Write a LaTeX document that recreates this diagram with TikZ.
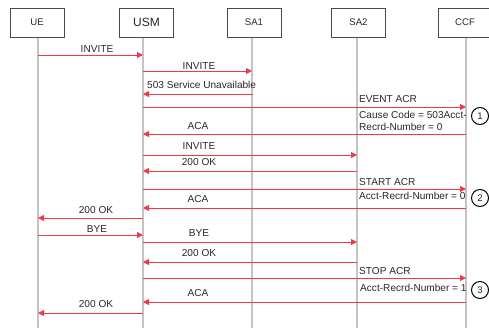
\documentclass[tikz,border=0pt]{standalone}
\usepackage{fontspec}
\setmainfont{Liberation Sans}
\usepackage{xcolor}
\usepackage{tikz}
\usetikzlibrary{arrows.meta, calc}
\definecolor{msgred}{HTML}{F03A4A}
\definecolor{lifegray}{HTML}{C4C4C4}
\definecolor{boxframe}{HTML}{4A4A4A}
\definecolor{txtgray}{HTML}{282828}

\begin{document}
\begin{tikzpicture}[
  x=1pt, y=-1pt,
  font=\fontsize{10.1}{11.5}\selectfont, text=txtgray,
  entity/.style={rectangle, draw=boxframe, line width=1pt, fill=white,
                 minimum width=54pt, minimum height=29pt, inner sep=0pt,
                 font=\fontsize{9.6}{11}\selectfont},
  lifeline/.style={draw=lifegray, line width=1.4pt},
  msg/.style={-{Triangle[length=6pt, width=6pt]}, draw=msgred, line width=1pt},
  msglbl/.style={anchor=base, inner sep=0pt},
  notelbl/.style={anchor=base west, inner sep=0pt},
  step num/.style={circle, draw=black, line width=1pt, minimum size=17pt,
                   inner sep=0pt, font=\fontsize{9.6}{11}\selectfont},
]
\useasboundingbox (0,0) rectangle (489,327);

%% ── Lifelines ────────────────────────────────────────────────────────────────
\coordinate (ue)  at (38,37);
\coordinate (usm) at (143,37);
\coordinate (sa1) at (252,37);
\coordinate (sa2) at (357,37);
\coordinate (ccf) at (466,37);
\foreach \p in {ue,usm,sa1,sa2,ccf}
  \draw[lifeline] (\p) -- (\p |- 0,330);

%% ── Entities ─────────────────────────────────────────────────────────────────
\node[entity] (UE)  at (37,22.5)  {UE};
\node[entity, font=\fontsize{12}{14}\selectfont] (USM) at (146.5,22.5)
  {\raisebox{-1.5pt}{USM}};
\node[entity] (SA1) at (254,22.5)  {SA1};
\node[entity] (SA2) at (358.5,22.5) {SA2};
\node[entity] (CCF) at (465,22.5)  {CCF};

%% ── Call setup and event charging ────────────────────────────────────────────
\draw[msg] (ue |- 0,55)   -- (usm |- 0,55);
\node[msglbl] (l1) at (97,52.5) {INVITE};
\draw[msg] (usm |- 0,71)  -- (sa1 |- 0,71);
\node[msglbl] (l2) at (199,69.5) {INVITE};
\draw[msg] ($(sa1 |- 0,94)+(1,0)$) -- (usm |- 0,94);
\node[notelbl] (l3) at (147,88.5) {503 Service Unavailable};
\draw[msg] (usm |- 0,107) -- (ccf |- 0,107);
\node[notelbl] (l4) at (359,102.5) {EVENT ACR};
\node[notelbl] (l5) at (359,118.5) {Cause Code = 503Acct-};
\node[notelbl] (l6) at (359,130.5) {Recrd-Number = 0};
\draw[msg] (ccf |- 0,134) -- (usm |- 0,134);
\node[msglbl] (l7) at (198,129.5) {ACA};

%% ── Session start ────────────────────────────────────────────────────────────
\draw[msg] (usm |- 0,155) -- (sa2 |- 0,155);
\node[msglbl] (l8) at (199,149.5) {INVITE};
\draw[msg] (sa2 |- 0,171) -- (usm |- 0,171);
\node[msglbl] (l9) at (199,165.5) {200 OK};
\draw[msg] (usm |- 0,189) -- (ccf |- 0,189);
\node[notelbl] (l10) at (359,185.5) {START ACR};
\node[notelbl] (l11) at (359,199.5) {Acct-Recrd-Number = 0};
\draw[msg] (ccf |- 0,208) -- (usm |- 0,208);
\node[msglbl] (l12) at (198,202.5) {ACA};
\draw[msg] (usm |- 0,218) -- (ue |- 0,218);
\node[msglbl] (l13) at (96,213.5) {200 OK};

%% ── Session release ──────────────────────────────────────────────────────────
\draw[msg] (ue |- 0,235)  -- (usm |- 0,235);
\node[msglbl] (l14) at (97,232.5) {BYE};
\draw[msg] (usm |- 0,242) -- (sa2 |- 0,242);
\node[msglbl] (l15) at (199,236.5) {BYE};
\draw[msg] (sa2 |- 0,262) -- (usm |- 0,262);
\node[msglbl] (l16) at (199,256.5) {200 OK};
\draw[msg] (usm |- 0,278) -- (ccf |- 0,278);
\node[notelbl] (l17) at (359,274.5) {STOP ACR};
\node[notelbl] (l18) at (360,291.5) {Acct-Recrd-Number = 1};
\draw[msg] (ccf |- 0,302) -- (usm |- 0,302);
\node[msglbl] (l19) at (198,296.5) {ACA};
\draw[msg] (usm |- 0,313) -- (ue |- 0,313);
\node[msglbl] (l20) at (96,307.5) {200 OK};

%% ── Step markers ─────────────────────────────────────────────────────────────
\node[step num] (c1) at (480,116) {1};
\node[step num] (c2) at (480,198) {2};
\node[step num] (c3) at (480,290) {3};

\end{tikzpicture}
\end{document}
